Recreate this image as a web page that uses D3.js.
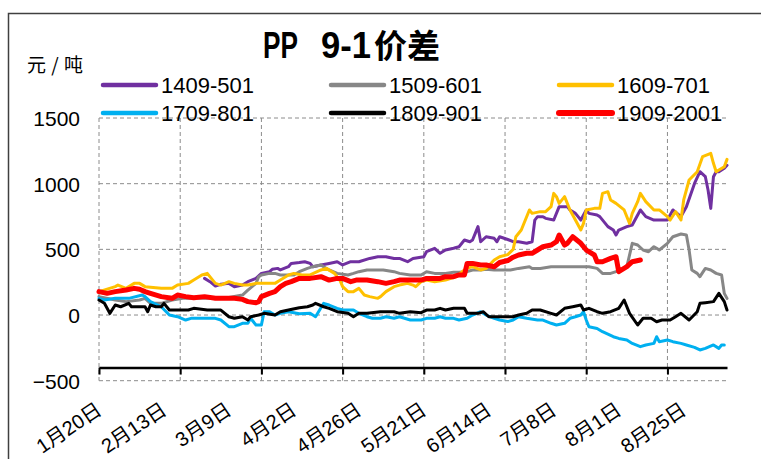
<!DOCTYPE html>
<html><head><meta charset="utf-8">
<script src="https://cdn.jsdelivr.net/npm/d3@7"></script>
<style>body{margin:0;background:#fff;} svg{display:block;}</style>
</head><body>
<svg id="c" width="761" height="459"></svg>
<script>
const dateLabels = ["1月20日","2月13日","3月9日","4月2日","4月26日","5月21日","6月14日","7月8日","8月1日","8月25日"];
const yTicks = [-500, 0, 500, 1000, 1500];
const totalDays = 232;
const labelStep = 24;
const gridStep = 30;
const axisCross = -400;
const seriesNames = ["1409-501","1509-601","1609-701","1709-801","1809-901","1909-2001"];
const seriesColors = ["#7030A0","#878787","#FFC000","#00B0F0","#000000","#FF0000"];

const s1409 = [[39,279],[41,254],[43,221],[45,234],[48,241],[50,216],[53,228],[55,254],[58,279],[60,317],[63,330],[64,348],[66,355],[67,343],[70,368],[71,393],[74,400],[76,406],[78,393],[79,368],[82,381],[85,393],[88,406],[90,381],[93,406],[96,406],[100,431],[103,444],[106,444],[109,431],[111,431],[114,406],[116,431],[120,444],[121,482],[124,508],[126,470],[128,495],[131,508],[133,520],[135,571],[137,558],[138,571],[139,622],[140,673],[141,558],[143,596],[146,584],[147,558],[148,596],[151,575],[153,558],[155,558],[158,546],[160,558],[161,723],[162,749],[164,749],[165,736],[168,723],[170,825],[173,825],[174,800],[176,774],[178,723],[180,800],[181,774],[184,761],[185,749],[188,673],[190,647],[191,609],[192,647],[195,673],[197,685],[200,800],[202,749],[205,723],[207,723],[210,723],[212,800],[215,749],[217,825],[220,1002],[222,1091],[224,1053],[225,952],[226,812],[227,1053],[228,1091],[229,1091],[231,1117],[232,1140]];
const s1509 = [[0,140],[6,114],[10,102],[15,114],[17,127],[19,89],[23,89],[27,114],[31,127],[35,127],[42,127],[48,134],[53,152],[55,190],[58,241],[59,292],[60,305],[63,317],[65,317],[67,305],[72,305],[74,330],[77,355],[79,368],[82,381],[83,368],[85,343],[88,317],[92,305],[94,317],[96,330],[99,343],[103,343],[105,343],[109,330],[111,317],[115,305],[119,305],[121,330],[124,317],[128,317],[131,325],[133,325],[136,330],[138,343],[141,343],[143,348],[146,343],[148,343],[152,343],[155,355],[159,368],[160,355],[163,355],[167,368],[170,368],[173,368],[178,368],[181,368],[184,355],[186,317],[189,317],[191,330],[193,343],[195,368],[197,546],[199,533],[201,495],[203,482],[205,520],[206,508],[207,495],[210,546],[212,596],[215,617],[217,609],[218,495],[219,343],[221,317],[222,292],[224,355],[226,343],[228,317],[230,305],[231,165],[232,127]];
const s1609 = [[0,178],[6,216],[7,228],[10,203],[13,241],[15,241],[17,216],[23,203],[27,203],[29,228],[33,241],[35,266],[38,305],[40,317],[42,266],[43,241],[45,228],[48,254],[50,241],[53,228],[55,228],[58,241],[63,241],[65,241],[67,266],[70,305],[72,317],[75,305],[78,305],[82,343],[84,355],[87,317],[89,266],[90,216],[92,178],[94,178],[96,203],[98,152],[100,140],[103,127],[104,140],[106,178],[109,216],[111,228],[114,241],[116,228],[117,216],[119,254],[121,266],[124,254],[128,266],[132,292],[135,343],[136,355],[138,368],[141,343],[143,355],[146,419],[148,444],[151,460],[153,500],[154,596],[156,647],[159,800],[160,774],[163,787],[165,787],[167,825],[168,926],[169,901],[170,850],[172,901],[174,800],[176,723],[178,647],[179,698],[180,800],[183,812],[185,812],[186,926],[188,939],[189,876],[191,850],[194,800],[196,698],[197,774],[199,863],[200,926],[202,863],[205,800],[207,800],[210,749],[211,723],[213,787],[215,723],[216,876],[218,1028],[221,1091],[223,1206],[226,1231],[227,1155],[228,1091],[229,1104],[231,1129],[232,1185]];
const s1709 = [[0,127],[2,114],[6,127],[11,127],[16,152],[17,140],[19,102],[23,63],[26,0],[29,-13],[32,-38],[34,-25],[39,-25],[43,-25],[45,-38],[48,-89],[50,-89],[53,-63],[55,-63],[56,-25],[58,-76],[60,-76],[61,25],[63,25],[65,0],[67,13],[70,25],[74,10],[78,13],[80,-13],[83,89],[85,76],[88,51],[90,38],[94,38],[96,13],[99,-13],[101,-25],[104,-25],[106,-13],[109,-25],[111,-13],[115,-38],[119,-38],[121,-25],[124,-25],[126,-13],[128,-25],[131,-25],[133,-38],[136,-25],[138,0],[141,25],[143,0],[146,-25],[148,-38],[151,-50],[153,-38],[155,-13],[158,-25],[162,-38],[164,-38],[167,-63],[169,-76],[172,-63],[174,-25],[176,-13],[178,0],[179,25],[180,-38],[181,-89],[184,-102],[186,-127],[190,-165],[192,-178],[195,-190],[197,-216],[200,-241],[202,-228],[205,-216],[206,-165],[207,-203],[210,-190],[212,-203],[215,-216],[217,-228],[220,-246],[222,-266],[224,-254],[227,-228],[229,-254],[230,-228],[231,-228]];
const s1809 = [[0,114],[2,89],[4,13],[6,76],[8,63],[11,89],[12,63],[15,63],[17,63],[18,25],[19,76],[21,63],[23,63],[24,89],[26,38],[28,38],[33,38],[35,51],[40,38],[45,38],[48,-13],[50,-25],[53,-13],[55,-38],[56,-13],[59,0],[61,13],[65,0],[67,25],[70,38],[74,55],[77,63],[79,76],[80,89],[83,63],[85,51],[88,25],[92,13],[94,-13],[96,13],[99,13],[104,25],[109,25],[111,13],[115,25],[119,18],[121,38],[124,38],[126,51],[128,38],[131,51],[135,51],[136,13],[140,13],[142,25],[144,-13],[147,-13],[151,-13],[153,-13],[155,0],[158,13],[160,38],[163,38],[167,13],[169,0],[172,51],[175,63],[178,76],[179,38],[181,51],[184,25],[186,13],[189,25],[192,51],[194,114],[196,13],[199,-76],[201,-25],[204,-25],[206,-51],[208,-38],[211,-38],[213,-13],[215,13],[218,-38],[221,25],[222,89],[224,94],[227,102],[229,165],[231,102],[232,38]];
const s1909 = [[0,178],[3,165],[6,178],[10,190],[13,203],[15,196],[17,178],[19,165],[23,140],[27,127],[29,152],[32,140],[35,132],[39,140],[43,127],[47,127],[50,127],[53,119],[55,102],[58,94],[59,102],[60,140],[63,165],[65,178],[67,216],[69,241],[71,254],[74,279],[78,279],[82,292],[85,266],[88,279],[90,279],[93,254],[95,266],[99,266],[103,254],[106,241],[109,254],[111,266],[115,266],[119,266],[121,279],[126,279],[128,292],[131,292],[133,305],[135,305],[136,393],[138,393],[141,381],[143,381],[146,368],[148,400],[151,415],[153,440],[155,457],[158,470],[160,470],[162,495],[164,520],[167,533],[169,558],[170,609],[172,533],[173,546],[174,571],[175,596],[178,546],[180,495],[183,457],[184,406],[186,406],[189,431],[191,444],[192,330],[195,368],[197,406],[200,419]];

const seriesData = [s1409, s1509, s1609, s1709, s1809, s1909];
const seriesWidths = [3, 3, 3, 3, 3, 5];

const svg = d3.select("#c");
const M = {left: 99, right: 727, top: 118, bottom: 380.7};
const x = d3.scaleLinear().domain([0, totalDays]).range([M.left, M.right]);
const y = d3.scaleLinear().domain([-500, 1500]).range([M.bottom, M.top]);

// outer frame
svg.append("rect").attr("x", 8.5).attr("y", 13.5).attr("width", 800).attr("height", 500)
  .attr("fill", "none").attr("stroke", "#404040").attr("stroke-width", 1.5);

// grid
const grid = svg.append("g").attr("stroke", "#8c8c8c").attr("stroke-width", 1).attr("stroke-dasharray", "4,3");
grid.selectAll("line.h").data(yTicks).join("line").attr("class", "h")
  .attr("x1", M.left).attr("x2", M.right).attr("y1", d => y(d)).attr("y2", d => y(d));
grid.selectAll("line.v").data(d3.range(0, totalDays, gridStep)).join("line").attr("class", "v")
  .attr("x1", d => x(d)).attr("x2", d => x(d)).attr("y1", M.top).attr("y2", M.bottom);

// y axis labels
const yAxis = d3.axisLeft(y).tickValues(yTicks).tickSize(0).tickPadding(0).tickFormat(d3.format("d"));
const gy = svg.append("g").attr("transform", "translate(80,0)").call(yAxis);
gy.select(".domain").remove();
gy.selectAll("text").attr("font-family", "'Liberation Sans', Arial, sans-serif").attr("font-size", 21).attr("fill", "#000").attr("dy", "0.36em");

// series
const line = d3.line().x(d => x(d[0])).y(d => y(d[1]));
svg.append("g").selectAll("path").data(seriesData).join("path")
  .attr("d", line).attr("fill", "none")
  .attr("stroke", (d, i) => seriesColors[i])
  .attr("stroke-width", (d, i) => seriesWidths[i])
  .attr("stroke-linejoin", "round").attr("stroke-linecap", "round");

// x axis at -400
const xAxis = d3.axisBottom(x).tickValues(d3.range(0, totalDays, gridStep)).tickSizeInner(7).tickSizeOuter(0).tickFormat("");
const gx = svg.append("g").attr("transform", `translate(0,${y(axisCross)})`).call(xAxis);
gx.select(".domain").attr("stroke", "#000").attr("stroke-width", 2.5);
gx.selectAll(".tick line").attr("stroke", "#000").attr("stroke-width", 2);

// x labels
svg.append("g").selectAll("text").data(dateLabels).join("text")
  .attr("transform", (d, i) => `translate(${x(i * labelStep) + 4},413) rotate(-34)`)
  .attr("text-anchor", "end")
  .attr("font-family", "'Liberation Sans', 'Noto Sans CJK SC', sans-serif")
  .attr("font-size", 20).attr("fill", "#000")
  .text(d => d);

// title
const title = svg.append("text").attr("y", 58).attr("font-weight", "bold").attr("fill", "#000")
  .attr("font-family", "'Liberation Sans', sans-serif").attr("font-size", 36);
title.append("tspan").attr("x", 263).attr("textLength", 35).attr("lengthAdjust", "spacingAndGlyphs").text("PP");
title.append("tspan").attr("x", 321).attr("textLength", 50).attr("lengthAdjust", "spacingAndGlyphs").text("9-1");
title.append("tspan").attr("x", 374).attr("font-family", "'Noto Sans CJK SC', sans-serif").attr("font-size", 33).text("价差");

// unit
svg.append("text").attr("x", 27).attr("y", 72).attr("font-family", "'Noto Sans CJK SC', sans-serif")
  .attr("font-size", 19).attr("textLength", 56).attr("fill", "#000").text("元/吨");

// legend
const legCols = [103, 331, 559];
const legRows = [85, 113];
const leg = svg.append("g").selectAll("g").data(seriesNames).join("g")
  .attr("transform", (d, i) => `translate(${legCols[i % 3]},${legRows[Math.floor(i / 3)]})`);
leg.append("line").attr("x1", 0).attr("x2", 53).attr("y1", 0).attr("y2", 0)
  .attr("stroke", (d, i) => seriesColors[i]).attr("stroke-width", (d, i) => i === 5 ? 6 : 4.5)
  .attr("stroke-linecap", "round");
leg.append("text").attr("x", 58).attr("y", 8).attr("font-family", "'Liberation Sans', Arial, sans-serif")
  .attr("font-size", 22).attr("fill", "#000").text(d => d);
</script>
</body></html>
